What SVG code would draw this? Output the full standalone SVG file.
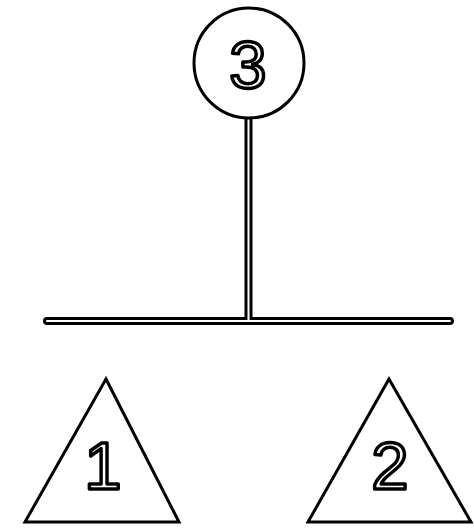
<svg xmlns="http://www.w3.org/2000/svg" width="474" height="529" viewBox="0 0 474 529">
<style>
.shape{fill:#fff;stroke:#000;stroke-width:3}
.lbl{font-family:"Liberation Sans",Arial,sans-serif;font-size:67px;fill:#fff;stroke:#000;stroke-width:3.5;stroke-linejoin:round;text-anchor:middle}
.outer{fill:none;stroke:#000;stroke-width:8;stroke-linecap:round}
.inner{fill:none;stroke:#fff;stroke-width:2;stroke-linecap:round}
</style>
<rect width="474" height="529" fill="#fff"/>
<g id="connectors">
<path class="outer" d="M248.5 118V321M47 321H450"/>
<path class="inner" d="M248.5 120V321M47 321H450"/>
</g>
<g id="node3">
<circle class="shape" cx="249" cy="63" r="55"/>
<text class="lbl" x="248" y="88">3</text>
</g>
<g id="node1">
<polygon class="shape" points="106,379 25,522 179,522"/>
<text class="lbl" x="103" y="489">1</text>
</g>
<g id="node2">
<polygon class="shape" points="389,379 308,522 471,522"/>
<text class="lbl" x="390" y="489">2</text>
</g>
</svg>
